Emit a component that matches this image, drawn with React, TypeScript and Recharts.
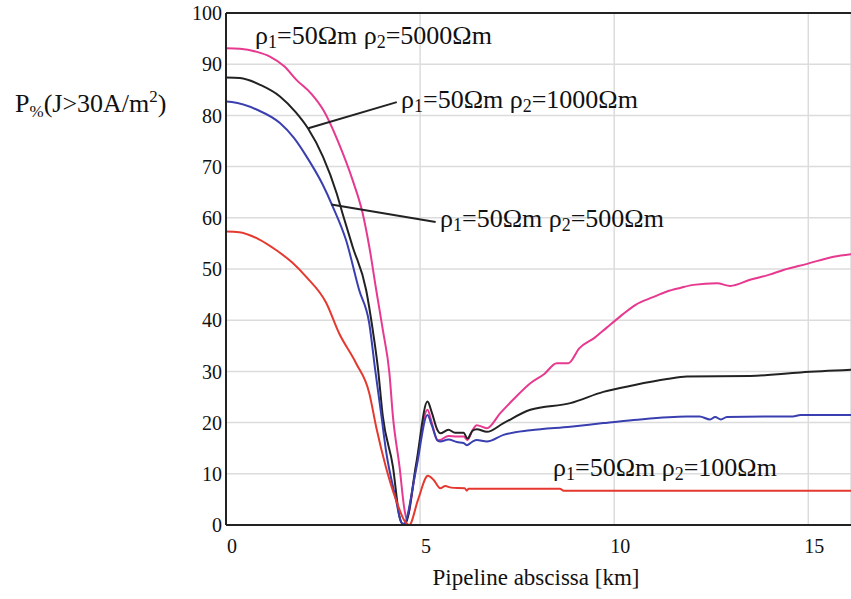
import React from 'react';
import { LineChart, Line, XAxis, YAxis, CartesianGrid, ReferenceLine } from 'recharts';

// distance along pipeline [km] and percentage of pipeline with J > 30 A/m2
const kmRho5000 = [0, 0.36, 0.8, 1.13, 1.5, 1.82, 2.2, 2.51, 2.94, 3.26, 3.52, 3.69, 3.87, 4.04, 4.21, 4.3, 4.47, 4.6, 4.65, 4.9, 5.19, 5.3, 5.45, 5.52, 5.73, 5.95, 6.12, 6.22, 6.35, 6.46, 6.72, 7.06, 7.4, 7.84, 8.2, 8.52, 8.82, 9.1, 9.5, 9.8, 10.15, 10.55, 11.0, 11.36, 11.7, 12.04, 12.65, 12.99, 13.5, 14.0, 14.36, 14.97, 15.65, 16.1];
const pRho5000 = [93.1, 93.0, 92.4, 91.5, 89.6, 86.9, 84.2, 81.0, 73.9, 67.4, 60.9, 54.4, 45.9, 38.1, 29.6, 21.2, 11.4, 2.9, 1.3, 11.5, 22.5, 20.0, 16.5, 16.6, 17.4, 17.3, 17.3, 16.6, 18.5, 19.5, 18.9, 21.8, 24.5, 27.7, 29.5, 31.6, 31.6, 34.5, 36.6, 38.5, 40.7, 43.0, 44.5, 45.6, 46.3, 46.9, 47.2, 46.7, 47.9, 48.9, 49.8, 51.0, 52.4, 52.9];

const kmRho1000 = [0, 0.36, 0.9, 1.39, 1.8, 2.11, 2.5, 2.85, 3.0, 3.26, 3.61, 3.78, 3.91, 4.04, 4.3, 4.47, 4.55, 4.62, 4.9, 5.19, 5.3, 5.45, 5.52, 5.73, 5.9, 6.12, 6.22, 6.35, 6.46, 6.72, 7.15, 7.84, 8.87, 9.72, 10.5, 11.36, 11.87, 13.5, 14.8, 16.1];
const pRho1000 = [87.4, 87.3, 85.9, 83.7, 80.6, 77.5, 71.9, 64.8, 60.9, 54.4, 45.9, 38.1, 30.9, 21.2, 11.4, 1.6, 0.2, 0.3, 12.0, 24.1, 22.0, 18.5, 17.9, 18.6, 18.0, 18.0, 16.9, 18.4, 18.7, 18.2, 19.9, 22.5, 23.8, 26.0, 27.3, 28.5, 29.0, 29.1, 29.8, 30.3];

const kmRho500 = [0, 0.15, 0.8, 1.39, 1.75, 2.08, 2.49, 2.75, 3.09, 3.43, 3.69, 3.84, 4.0, 4.12, 4.38, 4.51, 4.58, 4.9, 5.19, 5.3, 5.45, 5.52, 5.73, 5.95, 6.12, 6.2, 6.35, 6.46, 6.72, 7.15, 7.84, 8.87, 9.72, 10.5, 11.87, 12.2, 12.47, 12.6, 12.75, 12.9, 14.0, 14.6, 14.8, 16.1];
const pRho500 = [82.7, 82.6, 81.1, 78.5, 75.6, 71.9, 66.5, 62.2, 55.7, 45.9, 39.4, 30.5, 21.5, 14.6, 4.9, 0.6, 0.2, 11.0, 21.5, 19.5, 16.5, 16.3, 16.7, 16.2, 16.0, 15.6, 16.3, 16.6, 16.3, 17.6, 18.5, 19.2, 19.9, 20.5, 21.2, 21.2, 20.6, 21.1, 20.6, 21.1, 21.2, 21.2, 21.5, 21.5];

const kmRho100 = [0, 0.34, 0.85, 1.29, 1.7, 2.06, 2.58, 2.91, 3.35, 3.69, 3.87, 4.12, 4.38, 4.6, 4.72, 4.95, 5.2, 5.35, 5.52, 5.65, 5.8, 6.15, 6.2, 6.25, 8.6, 8.7, 16.1];
const pRho100 = [57.3, 57.2, 55.8, 53.7, 51.3, 48.5, 43.4, 37.5, 31.6, 25.8, 19.1, 11.3, 4.9, 0.8, 0, 5.0, 9.6, 8.8, 7.2, 7.6, 7.3, 7.2, 6.7, 7.1, 7.1, 6.7, 6.7];

const xTicks = [0, 5, 10, 15];
const yTicks = [0, 10, 20, 30, 40, 50, 60, 70, 80, 90, 100];

const zip = (km: number[], p: number[]) => km.map((k, i) => ({ km: k, p: p[i] }));

const series = [
  { name: 'rho5000', data: zip(kmRho5000, pRho5000), color: '#e6398f' },
  { name: 'rho1000', data: zip(kmRho1000, pRho1000), color: '#222222' },
  { name: 'rho500', data: zip(kmRho500, pRho500), color: '#3a3fb0' },
  { name: 'rho100', data: zip(kmRho100, pRho100), color: '#e5392f' },
];

const FONT = 'Liberation Serif, DejaVu Serif, serif';

const Rho = ({ x, y, r2 }: { x: number; y: number; r2: string }) => (
  <text x={x} y={y} style={{ fontFamily: FONT }} fontSize={26} fill="#111">
    ρ<tspan dy={4} fontSize={18}>1</tspan>
    <tspan dy={-4}>=50Ωm ρ</tspan>
    <tspan dy={4} fontSize={18}>2</tspan>
    <tspan dy={-4}>={r2}Ωm</tspan>
  </text>
);

export default function App() {
  return (
    <div style={{ position: 'absolute', left: 0, top: 0, width: 851, height: 599, background: '#fff', fontFamily: FONT }}>
      <LineChart width={851} height={599} margin={{ top: 13, right: 0, bottom: 44, left: 186 }} style={{ fontFamily: FONT }}>
        <CartesianGrid stroke="#dcdcdc" strokeWidth={1.5} />
        <XAxis
          type="number"
          dataKey="km"
          domain={[0, 16.1]}
          ticks={xTicks}
          allowDataOverflow
          height={30}
          tickLine={false}
          tickSize={0}
          tickMargin={14}
          axisLine={{ stroke: '#222', strokeWidth: 2 }}
          tick={{ fontFamily: FONT, fontSize: 20, fill: '#111', dx: 6 }}
        />
        <YAxis
          type="number"
          domain={[0, 100]}
          ticks={yTicks}
          width={40}
          tickLine={false}
          tickSize={0}
          tickMargin={4}
          axisLine={{ stroke: '#222', strokeWidth: 2 }}
          tick={{ fontFamily: FONT, fontSize: 20, fill: '#111' }}
        />
        <ReferenceLine y={100} stroke="#222" strokeWidth={2} />
        {series.map((s) => (
          <Line
            key={s.name}
            data={s.data}
            dataKey="p"
            type="monotoneX"
            stroke={s.color}
            strokeWidth={2}
            dot={false}
            isAnimationActive={false}
          />
        ))}
        <ReferenceLine segment={[{ x: 2.12, y: 77.5 }, { x: 4.4, y: 82.6 }]} stroke="#222" strokeWidth={2} ifOverflow="visible" />
        <ReferenceLine segment={[{ x: 2.71, y: 62.6 }, { x: 5.4, y: 59.2 }]} stroke="#222" strokeWidth={2} ifOverflow="visible" />
      </LineChart>
      <svg width={851} height={599} style={{ position: 'absolute', left: 0, top: 0, pointerEvents: 'none' }}>
        <Rho x={255} y={44} r2="5000" />
        <Rho x={401} y={108} r2="1000" />
        <Rho x={440} y={227} r2="500" />
        <Rho x={553} y={476} r2="100" />
        <text x={15} y={112} style={{ fontFamily: FONT }} fontSize={26} fill="#111">
          P<tspan dy={5} fontSize={17}>%</tspan>
          <tspan dy={-5}>(J&gt;30A/m</tspan>
          <tspan dy={-10} fontSize={17}>2</tspan>
          <tspan dy={10}>)</tspan>
        </text>
        <text x={536} y={585} textAnchor="middle" style={{ fontFamily: FONT }} fontSize={23} fill="#111">
          Pipeline abscissa [km]
        </text>
      </svg>
    </div>
  );
}
